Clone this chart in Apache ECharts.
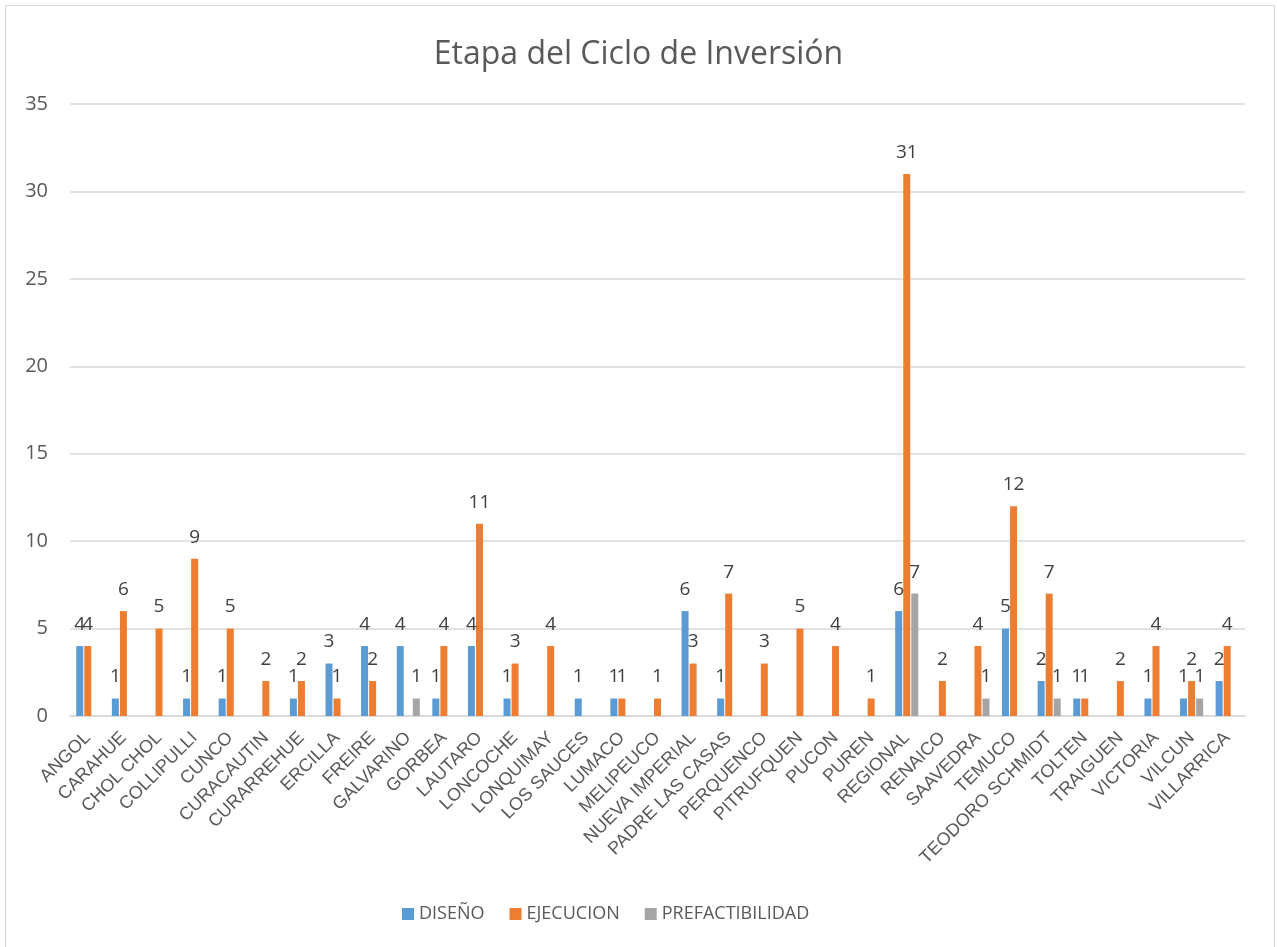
<!DOCTYPE html>
<html>
<head>
<meta charset="utf-8">
<script src="https://cdn.jsdelivr.net/npm/echarts@6/dist/echarts.min.js"></script>
<style>
  html, body { margin: 0; padding: 0; background: #fff; }
  #frame { position: absolute; left: 5px; top: 5px; width: 1270px; height: 950px; border: 1px solid #d9d9d9; box-sizing: border-box; }
  #chart { position: absolute; left: 0; top: 0; width: 1277px; height: 947px; }
</style>
</head>
<body>
<div id="frame"></div>
<div id="chart"></div>
<script>
var categories = ['ANGOL', 'CARAHUE', 'CHOL CHOL', 'COLLIPULLI', 'CUNCO', 'CURACAUTIN', 'CURARREHUE',
  'ERCILLA', 'FREIRE', 'GALVARINO', 'GORBEA', 'LAUTARO', 'LONCOCHE', 'LONQUIMAY', 'LOS SAUCES',
  'LUMACO', 'MELIPEUCO', 'NUEVA IMPERIAL', 'PADRE LAS CASAS', 'PERQUENCO', 'PITRUFQUEN', 'PUCON',
  'PUREN', 'REGIONAL', 'RENAICO', 'SAAVEDRA', 'TEMUCO', 'TEODORO SCHMIDT', 'TOLTEN', 'TRAIGUEN',
  'VICTORIA', 'VILCUN', 'VILLARRICA'];

var diseno = [4, 1, null, 1, 1, null, 1, 3, 4, 4, 1, 4, 1, null, 1, 1, null, 6, 1, null, null, null,
  null, 6, null, null, 5, 2, 1, null, 1, 1, 2];
var ejecucion = [4, 6, 5, 9, 5, 2, 2, 1, 2, null, 4, 11, 3, 4, null, 1, 1, 3, 7, 3, 5, 4,
  1, 31, 2, 4, 12, 7, 1, 2, 4, 2, 4];
var prefactibilidad = [null, null, null, null, null, null, null, null, null, 1, null, null, null, null, null, null, null, null, null, null, null, null,
  null, 7, null, 1, null, 1, null, null, null, 1, null];

var yTicks = { min: 0, max: 35, interval: 5 };

var chart = echarts.init(document.getElementById('chart'), null, { renderer: 'canvas' });

var labelStyle = { show: true, position: 'top', fontSize: 19, color: '#404040', distance: 12, fontFamily: 'Open Sans' };

function barSeries(name, data, color) {
  return {
    name: name,
    type: 'bar',
    data: data,
    barWidth: 7,
    barGap: '15%',
    itemStyle: { color: color },
    label: labelStyle,
    animation: false
  };
}

chart.setOption({
  title: {
    text: 'Etapa del Ciclo de Inversión',
    left: 'center',
    top: 34,
    textStyle: { fontSize: 32, fontWeight: 'normal', color: '#595959', fontFamily: 'Open Sans' }
  },
  legend: {
    bottom: 19,
    left: 397,
    itemWidth: 12,
    itemHeight: 12,
    itemGap: 25,
    icon: 'rect',
    textStyle: { fontSize: 18, color: '#595959', fontFamily: 'Open Sans' },
    data: ['DISEÑO', 'EJECUCION', 'PREFACTIBILIDAD']
  },
  grid: { left: 70, right: 32, top: 104, bottom: 231, containLabel: false },
  xAxis: {
    type: 'category',
    data: categories,
    axisTick: { show: false },
    axisLine: { lineStyle: { color: '#d9d9d9', width: 1.5 } },
    axisLabel: { rotate: 45, interval: 0, fontSize: 18, color: '#595959', fontFamily: 'Liberation Sans', margin: 19 }
  },
  yAxis: {
    type: 'value',
    min: yTicks.min,
    max: yTicks.max,
    interval: yTicks.interval,
    axisLine: { show: false },
    axisTick: { show: false },
    splitLine: { lineStyle: { color: '#d9d9d9', width: 1.5 } },
    axisLabel: { fontSize: 20, color: '#595959', fontFamily: 'Open Sans', margin: 22 }
  },
  series: [
    barSeries('DISEÑO', diseno, '#5b9bd5'),
    barSeries('EJECUCION', ejecucion, '#ed7d31'),
    barSeries('PREFACTIBILIDAD', prefactibilidad, '#a5a5a5')
  ]
});
</script>
</body>
</html>
